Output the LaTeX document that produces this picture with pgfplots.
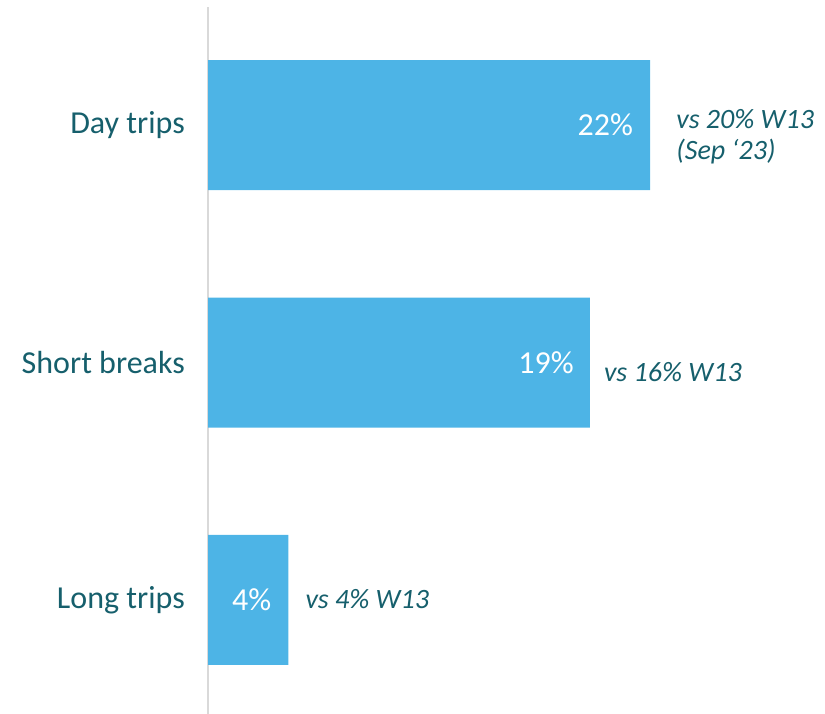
\documentclass[border=0pt]{standalone}
\usepackage{pgfplots}
\pgfplotsset{compat=1.18}
\usepackage{fontspec}
\setmainfont{Carlito}
\definecolor{barblue}{HTML}{4DB4E6}
\definecolor{tealtxt}{HTML}{165F6C}
\definecolor{axisgrey}{HTML}{D9D9D9}
\begin{document}
\begin{tikzpicture}
\useasboundingbox (0pt,0pt) rectangle (825pt,714pt);
\begin{axis}[
  at={(208pt,0pt)}, anchor=south west,
  scale only axis,
  width=603pt, height=707pt,
  xmin=0, xmax=30,
  ymin=-0.48, ymax=2.497,
  xbar, bar width=130pt,
  axis x line=none,
  axis y line=left,
  y axis line style={draw=axisgrey, line width=2pt, -},
  ytick={0,1,2},
  yticklabels={Long trips, Short breaks, Day trips},
  major tick length=0pt,
  ytick style={draw=none},
  yticklabel style={anchor=east, inner sep=0pt, text=tealtxt,
    font=\fontsize{32}{38}\selectfont},
  yticklabel shift=23pt,
  clip=false,
]
\addplot[fill=barblue, draw=none] coordinates {(4,0) (19,1) (22,2)};
% values inside bars
\node[anchor=east, inner sep=0pt, text=white, font=\fontsize{32}{38}\selectfont]
  at (axis cs:22,2) [xshift=-17pt] {22\%};
\node[anchor=east, inner sep=0pt, text=white, font=\fontsize{32}{38}\selectfont]
  at (axis cs:19,1) [xshift=-16pt] {19\%};
\node[anchor=east, inner sep=0pt, text=white, font=\fontsize{32}{38}\selectfont]
  at (axis cs:4,0) [xshift=-17pt] {4\%};
% comparison notes
\node[anchor=west, inner sep=0pt, text=tealtxt, align=left,
  font=\fontsize{28}{31}\itshape\selectfont]
  at (axis cs:22,2) [xshift=26pt, yshift=-12pt] {vs 20\% W13\\(Sep ‘23)};
\node[anchor=west, inner sep=0pt, text=tealtxt,
  font=\fontsize{28}{27}\itshape\selectfont]
  at (axis cs:19,1) [xshift=14pt, yshift=-10pt] {vs 16\% W13};
\node[anchor=west, inner sep=0pt, text=tealtxt,
  font=\fontsize{28}{27}\itshape\selectfont]
  at (axis cs:4,0) [xshift=17pt, yshift=1pt] {vs 4\% W13};
\end{axis}
\end{tikzpicture}
\end{document}
